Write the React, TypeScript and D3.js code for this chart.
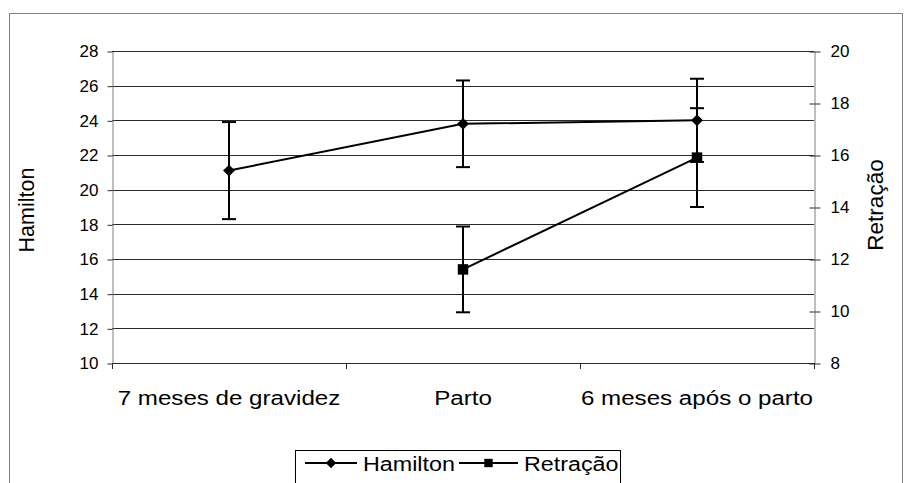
import React from 'react';
import * as d3 from 'd3';

const categories = ['7 meses de gravidez', 'Parto', '6 meses após o parto'];
const hamilton = [21.1, 23.8, 24.0];
const hamiltonErr = [2.8, 2.5, 2.4];
const retracao: (number | null)[] = [null, 11.6, 15.9];
const retracaoErr: (number | null)[] = [null, 1.65, 1.9];
const leftTicks = [10, 12, 14, 16, 18, 20, 22, 24, 26, 28];
const rightTicks = [8, 10, 12, 14, 16, 18, 20];

const FONT = '"Liberation Sans", Arial, sans-serif';

export default function App() {
	const ref = React.useRef<SVGSVGElement>(null);

	React.useEffect(() => {
		const svg = d3.select(ref.current);
		svg.selectAll('*').remove();

		const left = 112;
		const right = 814;
		const top = 51;
		const bottom = 363;

		const x = d3.scaleBand().domain(categories).range([left, right]).padding(0);
		const yL = d3.scaleLinear().domain([10, 28]).range([bottom, top]);
		const yR = d3.scaleLinear().domain([8, 20]).range([bottom, top]);
		const cx = (c: string) => (x(c) as number) + x.bandwidth() / 2;

		// outer frame
		svg
			.append('rect')
			.attr('x', 9.5)
			.attr('y', 13.5)
			.attr('width', 893)
			.attr('height', 520)
			.attr('fill', 'white')
			.attr('stroke', '#808080');

		// gridlines
		svg
			.append('g')
			.selectAll('line')
			.data(leftTicks)
			.join('line')
			.attr('x1', left)
			.attr('x2', right)
			.attr('y1', (d) => Math.round(yL(d)) + 0.5)
			.attr('y2', (d) => Math.round(yL(d)) + 0.5)
			.attr('stroke', '#2a2a2a');

		// left axis
		svg
			.append('g')
			.attr('transform', `translate(${left + 0.5},0.5)`)
			.call(d3.axisLeft(yL).tickValues(leftTicks).tickSize(5).tickSizeOuter(0).tickPadding(9))
			.call((g) => g.select('.domain').attr('stroke', '#808080'))
			.call((g) => g.selectAll('.tick line').attr('stroke', '#2a2a2a'))
			.call((g) =>
				g.selectAll('.tick text').attr('font-size', 17).attr('font-family', FONT).attr('fill', '#000')
			);

		// right axis
		svg
			.append('g')
			.attr('transform', `translate(${right + 0.5},0.5)`)
			.call(d3.axisRight(yR).tickValues(rightTicks).tickSize(6).tickSizeOuter(0).tickPadding(10))
			.call((g) => g.select('.domain').attr('stroke', '#808080'))
			.call((g) => g.selectAll('.tick line').attr('x1', -5).attr('stroke', '#2a2a2a'))
			.call((g) =>
				g.selectAll('.tick text').attr('font-size', 17).attr('font-family', FONT).attr('fill', '#000')
			);

		// x axis
		const xa = svg.append('g');
		xa.append('line')
			.attr('x1', left)
			.attr('x2', right)
			.attr('y1', bottom + 0.5)
			.attr('y2', bottom + 0.5)
			.attr('stroke', '#2a2a2a');
		const bounds = categories.map((c) => x(c) as number).concat([right]);
		xa.selectAll('.xt')
			.data(bounds)
			.join('line')
			.attr('x1', (d) => Math.round(d) + 0.5)
			.attr('x2', (d) => Math.round(d) + 0.5)
			.attr('y1', bottom)
			.attr('y2', bottom + 6)
			.attr('stroke', '#2a2a2a');
		xa.selectAll('text')
			.data(categories)
			.join('text')
			.attr('transform', (d) => `translate(${cx(d)},405) scale(1.15,1)`)
			.attr('text-anchor', 'middle')
			.attr('font-size', 21)
			.attr('font-family', FONT)
			.text((d) => d);

		// axis titles
		svg
			.append('text')
			.attr('transform', 'translate(34,210) rotate(-90)')
			.attr('text-anchor', 'middle')
			.attr('font-size', 21.5)
			.attr('font-family', FONT)
			.text('Hamilton');
		svg
			.append('text')
			.attr('transform', 'translate(883,205) rotate(-90)')
			.attr('text-anchor', 'middle')
			.attr('font-size', 22.5)
			.attr('font-family', FONT)
			.text('Retração');

		// error bars
		const errs: { x: number; lo: number; hi: number }[] = [];
		categories.forEach((c, i) => {
			errs.push({ x: cx(c), lo: yL(hamilton[i] - hamiltonErr[i]), hi: yL(hamilton[i] + hamiltonErr[i]) });
			const r = retracao[i];
			const e = retracaoErr[i];
			if (r != null && e != null) errs.push({ x: cx(c), lo: yR(r - e), hi: yR(r + e) });
		});
		const eg = svg.append('g').attr('stroke', '#000').attr('stroke-width', 2);
		errs.forEach((e) => {
			eg.append('line').attr('x1', e.x).attr('x2', e.x).attr('y1', e.lo).attr('y2', e.hi);
			eg.append('line').attr('x1', e.x - 7).attr('x2', e.x + 7).attr('y1', e.lo).attr('y2', e.lo);
			eg.append('line').attr('x1', e.x - 7).attr('x2', e.x + 7).attr('y1', e.hi).attr('y2', e.hi);
		});

		// lines
		const hLine = d3
			.line<number>()
			.x((d, i) => cx(categories[i]))
			.y((d) => yL(d));
		svg.append('path').attr('d', hLine(hamilton)).attr('fill', 'none').attr('stroke', '#000').attr('stroke-width', 2);

		const rPts = retracao
			.map((v, i) => ({ v, c: categories[i] }))
			.filter((d) => d.v != null) as { v: number; c: string }[];
		const rLine = d3
			.line<{ v: number; c: string }>()
			.x((d) => cx(d.c))
			.y((d) => yR(d.v));
		svg.append('path').attr('d', rLine(rPts)).attr('fill', 'none').attr('stroke', '#000').attr('stroke-width', 2);

		// markers
		svg
			.append('g')
			.selectAll('path')
			.data(hamilton)
			.join('path')
			.attr('transform', (d, i) => `translate(${cx(categories[i])},${yL(d)}) rotate(45)`)
			.attr('d', d3.symbol(d3.symbolSquare, 70)())
			.attr('fill', '#000');
		svg
			.append('g')
			.selectAll('path')
			.data(rPts)
			.join('path')
			.attr('transform', (d) => `translate(${cx(d.c)},${yR(d.v)})`)
			.attr('d', d3.symbol(d3.symbolSquare, 110)())
			.attr('fill', '#000');

		// legend
		const lg = svg.append('g');
		lg.append('rect')
			.attr('x', 295.5)
			.attr('y', 450.5)
			.attr('width', 325)
			.attr('height', 60)
			.attr('fill', 'white')
			.attr('stroke', '#000');
		const items = [
			{ name: 'Hamilton', x0: 305, len: 52, sym: 'd' },
			{ name: 'Retração', x0: 459, len: 59, sym: 's' },
		];
		items.forEach((it) => {
			lg.append('line')
				.attr('x1', it.x0)
				.attr('x2', it.x0 + it.len)
				.attr('y1', 463)
				.attr('y2', 463)
				.attr('stroke', '#000')
				.attr('stroke-width', 2);
			lg.append('path')
				.attr('transform', `translate(${it.x0 + it.len / 2},463)${it.sym === 'd' ? ' rotate(45)' : ''}`)
				.attr('d', it.sym === 'd' ? d3.symbol(d3.symbolSquare, 55)() : d3.symbol(d3.symbolSquare, 70)())
				.attr('fill', '#000');
			lg.append('text')
				.attr('transform', `translate(${it.x0 + it.len + 6},471) scale(1.11,1)`)
				.attr('font-size', 21)
				.attr('font-family', FONT)
				.text(it.name);
		});
	}, []);

	return (
		<svg
			ref={ref}
			width={905}
			height={483}
			style={{ position: 'absolute', left: 0, top: 0, background: 'white' }}
		/>
	);
}
